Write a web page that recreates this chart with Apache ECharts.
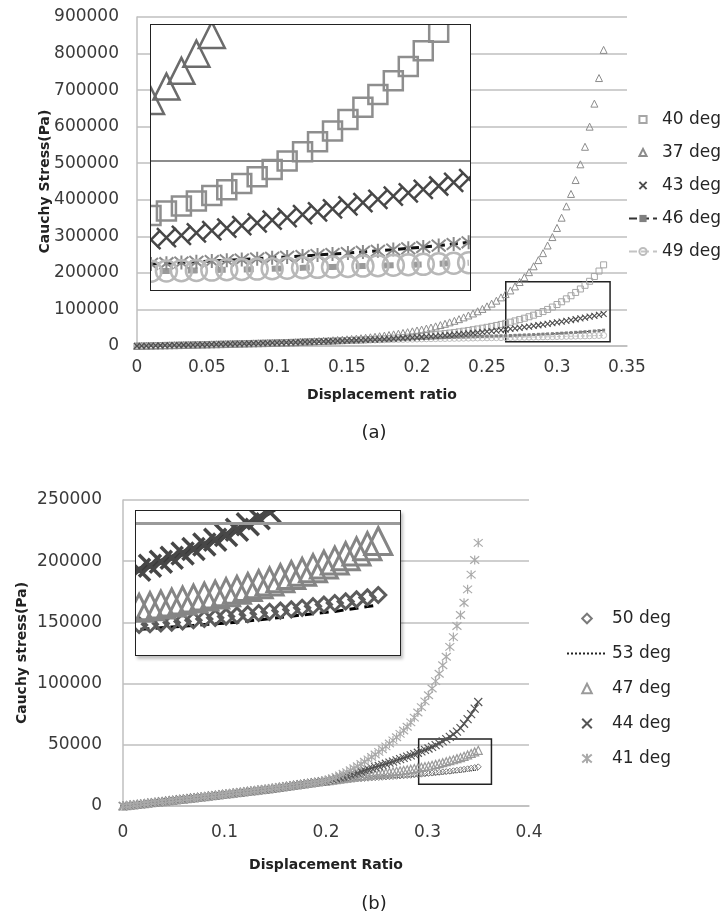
<!DOCTYPE html>
<html>
<head>
<meta charset="utf-8">
<script src="https://cdn.jsdelivr.net/npm/echarts@6/dist/echarts.min.js"></script>
<style>
  html, body { margin: 0; background: #fff; }
  #main { position: absolute; left: 0; top: 0; width: 728px; height: 917px; }
  .inset { position: absolute; background: #fff; border: 1.5px solid #222; box-sizing: border-box; overflow: hidden; }
  .inset > div { width: 100%; height: 100%; }
  #insetA { left: 150px; top: 24px; width: 321px; height: 267px; }
  #insetB { left: 135px; top: 510px; width: 266px; height: 146px; box-shadow: 2px 3px 3px rgba(0,0,0,0.25); }
</style>
</head>
<body>
<div id="main"></div>
<div id="insetA" class="inset"><div id="insetAChart"></div></div>
<div id="insetB" class="inset"><div id="insetBChart"></div></div>
<script>
// ====== (a) displacement ratio samples and stresses (Pa) ======
const xa = [0,0.0033,0.0067,0.01,0.0133,0.0167,0.02,0.0233,0.0267,0.03,
  0.0333,0.0367,0.04,0.0433,0.0467,0.05,0.0533,0.0567,0.06,0.0633,
  0.0667,0.07,0.0733,0.0767,0.08,0.0833,0.0867,0.09,0.0933,0.0967,
  0.1,0.1033,0.1067,0.11,0.1133,0.1167,0.12,0.1233,0.1267,0.13,
  0.1333,0.1367,0.14,0.1433,0.1467,0.15,0.1533,0.1567,0.16,0.1633,
  0.1667,0.17,0.1733,0.1767,0.18,0.1833,0.1867,0.19,0.1933,0.1967,
  0.2,0.2033,0.2067,0.21,0.2133,0.2167,0.22,0.2233,0.2267,0.23,
  0.2333,0.2367,0.24,0.2433,0.2467,0.25,0.2533,0.2567,0.26,0.2633,
  0.2667,0.27,0.2733,0.2767,0.28,0.2833,0.2867,0.29,0.2933,0.2967,
  0.3,0.3033,0.3067,0.31,0.3133,0.3167,0.32,0.3233,0.3267,0.33,
  0.3333];
// shared start where all curves overlap
const aBase = [0,270,540,810,1080,1350,1620,1890,2160,2430,
  2700,2970,3240,3510,3780,4050,4360,4670,4980,5290,
  5600,5910,6220,6530,6840,7150,7460,7770,8080,8390,
  8700,9080,9460,9840,10220];
const a37 = [11400,11900,12400,13000,13600,14300,15000,15800,16600,17400,
  18300,19300,20300,21400,22600,23900,25300,26800,28400,30100,
  31900,33800,35800,37900,40100,42500,45000,47700,50600,53800,
  57200,60800,64700,68900,73400,78300,83500,89000,95000,101500,
  108500,116000,124000,133000,142000,152000,163000,175000,188000,202000,
  218000,235000,254000,275000,298000,323000,351000,382000,416000,454000,
  497000,545000,600000,663000,733000,810000];
const a40 = [10700,11100,11500,11900,12300,12700,13100,13500,14000,14500,
  15000,15500,16000,16600,17200,17800,18500,19200,19900,20700,
  21500,22400,23300,24300,25300,26400,27500,28700,29900,31200,
  32600,34000,35500,37100,38800,40600,42500,44500,46600,48800,
  51100,53600,56200,59000,62000,65200,68600,72200,76000,80000,
  84300,89000,94200,100000,106500,113500,121000,129000,137500,146500,
  156000,166000,177000,190000,205000,222000];
const a43 = [10600,11000,11400,11800,12200,12600,13000,13400,13800,14200,
  14700,15200,15700,16200,16700,17200,17700,18300,18900,19500,
  20100,20800,21500,22200,23000,23800,24600,25400,26300,27200,
  28100,29100,30100,31100,32200,33300,34400,35600,36800,38100,
  39400,40800,42200,43600,45100,46600,48200,49800,51500,53200,
  55000,56800,58700,60600,62600,64600,66700,68800,71000,73200,
  75500,77800,80200,82600,85100,87700];
const a46 = [10500,10900,11300,11700,12100,12500,12900,13300,13700,14100,
  14500,14900,15300,15700,16100,16500,16900,17300,17700,18100,
  18500,18900,19300,19700,20100,20500,20900,21300,21700,22100,
  22500,22900,23300,23700,24100,24500,24900,25300,25700,26100,
  26500,26900,27300,27700,28200,28700,29200,29700,30200,30700,
  31300,31900,32500,33100,33700,34400,35100,35800,36600,37400,
  38200,39100,40000,41000,42100,43300];
const a49 = [10400,10800,11200,11600,12000,12400,12800,13200,13600,14000,
  14400,14800,15100,15400,15700,16000,16300,16600,16900,17200,
  17500,17800,18100,18400,18700,19000,19300,19600,19900,20100,
  20300,20500,20700,20900,21100,21300,21500,21700,21900,22100,
  22300,22500,22700,22900,23100,23300,23500,23700,23900,24100,
  24300,24600,24900,25200,25500,25800,26100,26400,26700,27000,
  27300,27600,27900,28300,28700,29100];

// ====== (b) ======
const xb = [0,0.0035,0.007,0.0105,0.014,0.0175,0.021,0.0245,0.028,0.0315,
  0.035,0.0385,0.042,0.0455,0.049,0.0525,0.056,0.0595,0.063,0.0665,
  0.07,0.0735,0.077,0.0805,0.084,0.0875,0.091,0.0945,0.098,0.1015,
  0.105,0.1085,0.112,0.1155,0.119,0.1225,0.126,0.1295,0.133,0.1365,
  0.14,0.1435,0.147,0.1505,0.154,0.1575,0.161,0.1645,0.168,0.1715,
  0.175,0.1785,0.182,0.1855,0.189,0.1925,0.196,0.1995,0.203,0.2065,
  0.21,0.2135,0.217,0.2205,0.224,0.2275,0.231,0.2345,0.238,0.2415,
  0.245,0.2485,0.252,0.2555,0.259,0.2625,0.266,0.2695,0.273,0.2765,
  0.28,0.2835,0.287,0.2905,0.294,0.2975,0.301,0.3045,0.308,0.3115,
  0.315,0.3185,0.322,0.3255,0.329,0.3325,0.336,0.3395,0.343,0.3465,
  0.35];
const bBase = [0,330,660,990,1320,1650,1980,2310,2640,2970,
  3300,3640,3980,4320,4660,5000,5340,5680,6020,6360,
  6700,7040,7380,7720,8060,8400,8750,9100,9450,9800,
  10150,10500,10850,11200,11550,11900,12250,12600,12950,13300,
  13650,14050,14450,14850,15250,15650,16050,16450,16850,17250,
  17650,18050,18450,18850,19250,19650,20050];
const b41 = [20800,21700,22700,23800,25000,26300,27700,29200,30800,32500,
  34300,36200,38100,40100,42100,44200,46400,48700,51100,53600,
  56200,58900,61700,64800,68300,72200,76400,80800,85500,90500,
  96000,102000,108000,115000,122000,130000,138000,147000,156000,166000,
  177000,189000,201000,215000];
const b44 = [20600,21300,22000,22700,23400,24100,24900,25700,26500,27300,
  28200,29100,30000,30900,31800,32700,33600,34500,35400,36300,
  37300,38300,39300,40300,41300,42400,43500,44600,45800,47000,
  48300,49700,51200,52800,54600,56500,58600,60800,63600,67200,
  71000,75000,79500,85000];
const b47 = [20400,20800,21200,21600,22000,22400,22800,23200,23600,24000,
  24400,24800,25200,25600,26000,26400,26800,27200,27600,28000,
  28400,28800,29200,29600,30100,30600,31100,31600,32100,32700,
  33300,34000,34700,35400,36200,37000,37800,38700,39600,40600,
  41700,42900,44200,45500];
const b50 = [20300,20500,20700,20900,21100,21300,21500,21700,21900,22100,
  22300,22500,22700,22900,23100,23300,23500,23700,23900,24100,
  24300,24500,24700,24900,25100,25400,25700,26000,26300,26600,
  26900,27200,27500,27800,28100,28400,28800,29200,29600,30000,
  30400,30900,31400,32000];
const b53 = [20200,20400,20500,20700,20800,21000,21100,21300,21400,21600,
  21700,21900,22000,22200,22300,22500,22600,22800,22900,23100,
  23200,23400,23600,23800,24000,24200,24400,24600,24800,25000,
  25200,25500,25800,26100,26400,26700,27000,27300,27600,27900,
  28300,28700,29100,29500];

const legendA = ['40 deg', '37 deg', '43 deg', '46 deg', '49 deg'];
const legendB = ['50 deg', '53 deg', '47 deg', '44 deg', '41 deg'];

// zoom boxes (data space) and the ranges shown in the insets
const boxA = [[0.2634, 11800], [0.3379, 176000]];
const boxB = [[0.2913, 17700], [0.363, 54700]];
const insetRangeA = { x: [0.2633, 0.3336], y: [10000, 195000], grid: 100000 };
const insetRangeB = { x: [0.272, 0.357], y: [17000, 53000], grid: 50000 };

const FONT = 'DejaVu Sans';
const X_PATH = 'path://M0,0L10,10M10,0L0,10';
const STAR_PATH = 'path://M0,1L10,11M10,1L0,11M5,0L5,12';

const pts = (xs, base, tail) => xs.map((x, i) => [x, i < base.length ? base[i] : tail[i - base.length]]);

const dataA = {
  '37 deg': pts(xa, aBase, a37), '40 deg': pts(xa, aBase, a40), '43 deg': pts(xa, aBase, a43),
  '46 deg': pts(xa, aBase, a46), '49 deg': pts(xa, aBase, a49)
};
const dataB = {
  '50 deg': pts(xb, bBase, b50), '53 deg': pts(xb, bBase, b53), '47 deg': pts(xb, bBase, b47),
  '44 deg': pts(xb, bBase, b44), '41 deg': pts(xb, bBase, b41)
};

function mk(name, data, axis, s) {
  return {
    name, type: 'line', data, xAxisIndex: axis, yAxisIndex: axis,
    symbol: s.symbol, symbolSize: s.size,
    itemStyle: { color: s.fill || 'rgba(0,0,0,0)', borderColor: s.stroke || 'rgba(0,0,0,0)', borderWidth: s.bw || 0 },
    lineStyle: s.line || { width: 0 },
    emphasis: { disabled: true }, silent: true, animation: false
  };
}

// main styles
const styleA = {
  '37 deg': { symbol: 'triangle', size: 7, stroke: '#8c8c8c', bw: 1 },
  '40 deg': { symbol: 'rect', size: 6, stroke: '#a6a6a6', bw: 1 },
  '43 deg': { symbol: X_PATH, size: 6, stroke: '#4d4d4d', bw: 1.1 },
  '46 deg': { symbol: 'rect', size: 3, fill: '#808080', line: { color: '#333', width: 1, type: 'dashed' } },
  '49 deg': { symbol: 'circle', size: 6, stroke: '#bdbdbd', bw: 1, line: { color: '#c4c4c4', width: 1, type: 'dashed' } }
};
const styleB = {
  '50 deg': { symbol: 'diamond', size: 6, stroke: '#7a7a7a', bw: 1 },
  '53 deg': { symbol: 'none', size: 0, line: { color: '#222', width: 1, type: 'dotted' } },
  '47 deg': { symbol: 'triangle', size: 8, stroke: '#9a9a9a', bw: 1.2 },
  '44 deg': { symbol: X_PATH, size: 8, stroke: '#555', bw: 1.2, line: { color: '#3a3a3a', width: 1.5 } },
  '41 deg': { symbol: STAR_PATH, size: 9, stroke: '#aaaaaa', bw: 1.2 }
};
// inset styles (magnified)
const insetStyleA = {
  '37 deg': { symbol: 'triangle', size: 26, stroke: '#6b6b6b', bw: 2.5 },
  '40 deg': { symbol: 'rect', size: 19, stroke: '#8e8e8e', bw: 2.5 },
  '43 deg': { symbol: X_PATH, size: 19, stroke: '#474747', bw: 2.5 },
  '46 deg': { symbol: STAR_PATH, size: 14, stroke: '#8a8a8a', bw: 2, line: { color: '#111', width: 3, type: [8, 5] } },
  '49 deg': { symbol: 'circle', size: 21, stroke: '#b8b8b8', bw: 2.5, line: { color: '#9a9a9a', width: 6, type: [10, 18] } }
};
const insetStyleB = {
  '50 deg': { symbol: 'diamond', size: 15, stroke: '#5c5c5c', bw: 3 },
  '53 deg': { symbol: 'none', size: 0, line: { color: '#000', width: 3, type: [9, 6] } },
  '47 deg': { symbol: 'triangle', size: 27, stroke: '#858585', bw: 3 },
  '44 deg': { symbol: X_PATH, size: 22, stroke: '#474747', bw: 3.5, line: { color: '#3a3a3a', width: 6 } },
  '41 deg': { symbol: STAR_PATH, size: 22, stroke: '#a8a8a8', bw: 3 }
};

// drawing order (last on top)
const orderA = ['49 deg', '46 deg', '40 deg', '37 deg', '43 deg'];
const orderB = ['50 deg', '53 deg', '47 deg', '44 deg', '41 deg'];

const boxMark = (b) => ({
  silent: true, label: { show: false },
  itemStyle: { color: 'rgba(0,0,0,0)', borderColor: '#222', borderWidth: 1.5 },
  data: [[{ coord: b[0] }, { coord: b[1] }]]
});

const seriesMain = [];
orderA.forEach((n, k) => {
  const s = mk(n, dataA[n], 0, styleA[n]);
  if (k === 0) s.markArea = boxMark(boxA);
  seriesMain.push(s);
});
orderB.forEach((n, k) => {
  const s = mk(n, dataB[n], 1, styleB[n]);
  if (k === 0) s.markArea = boxMark(boxB);
  seriesMain.push(s);
});

const axisBase = {
  type: 'value',
  axisLine: { show: true, lineStyle: { color: '#bfbfbf', width: 1.5 } },
  axisTick: { show: false },
  axisLabel: { color: '#3a3a3a', fontFamily: FONT, fontSize: 17, formatter: (v) => String(v) },
  nameLocation: 'middle',
  nameMoveOverlap: false,
  nameTextStyle: { color: '#222', fontFamily: FONT, fontWeight: 'bold', fontSize: 14 }
};
const xAxisOf = (o) => Object.assign({}, axisBase, { splitLine: { show: false } }, o);
const yAxisOf = (o) => Object.assign({}, axisBase, { splitLine: { show: true, lineStyle: { color: '#bfbfbf', width: 1.5 } } }, o);

const legendText = { fontFamily: FONT, fontSize: 17, color: '#262626' };

const chart = echarts.init(document.getElementById('main'));
chart.setOption({
  animation: false,
  title: [
    { text: '(a)', left: 374, top: 424, padding: 0, textAlign: 'center',
      textStyle: { fontFamily: FONT, fontWeight: 'normal', fontSize: 18, color: '#222' } },
    { text: '(b)', left: 374, top: 895, padding: 0, textAlign: 'center',
      textStyle: { fontFamily: FONT, fontWeight: 'normal', fontSize: 18, color: '#222' } }
  ],
  legend: [
    { orient: 'vertical', left: 628, top: 111, padding: 0, itemWidth: 28, itemHeight: 9, itemGap: 16,
      selectedMode: false, data: legendA, textStyle: legendText },
    { orient: 'vertical', left: 566, top: 610, padding: 0, itemWidth: 40, itemHeight: 12, itemGap: 18,
      selectedMode: false, textStyle: legendText,
      data: legendB.map((n) => n === '44 deg' ? { name: n, lineStyle: { width: 0 } } : n) }
  ],
  grid: [
    { left: 137, top: 17, width: 490, height: 329, outerBoundsMode: 'none' },
    { left: 123, top: 500, width: 406, height: 306, outerBoundsMode: 'none' }
  ],
  xAxis: [
    xAxisOf({ gridIndex: 0, min: 0, max: 0.35, interval: 0.05, name: 'Displacement ratio', nameGap: 42,
      axisLabel: Object.assign({}, axisBase.axisLabel, { margin: 13 }) }),
    xAxisOf({ gridIndex: 1, min: 0, max: 0.4, interval: 0.1, name: 'Displacement Ratio', nameGap: 52,
      axisLabel: Object.assign({}, axisBase.axisLabel, { margin: 18 }) })
  ],
  yAxis: [
    yAxisOf({ gridIndex: 0, min: 0, max: 900000, interval: 100000, name: 'Cauchy Stress(Pa)', nameGap: 85,
      axisLabel: Object.assign({}, axisBase.axisLabel, { margin: 18 }) }),
    yAxisOf({ gridIndex: 1, min: 0, max: 250000, interval: 50000, name: 'Cauchy stress(Pa)', nameGap: 94,
      axisLabel: Object.assign({}, axisBase.axisLabel, { margin: 21 }) })
  ],
  series: seriesMain
});

function insetChart(id, range, order, data, styles, gridColor, gridWidth) {
  const c = echarts.init(document.getElementById(id));
  const series = order.map((n) => mk(n, data[n], 0, styles[n]));
  series[0].markLine = {
    silent: true, symbol: ['none', 'none'], label: { show: false },
    lineStyle: { color: gridColor, width: gridWidth, type: 'solid' },
    data: [{ yAxis: range.grid }]
  };
  c.setOption({
    animation: false,
    grid: { left: 0, right: 0, top: 0, bottom: 0, outerBoundsMode: 'none' },
    xAxis: { type: 'value', min: range.x[0], max: range.x[1], show: false },
    yAxis: { type: 'value', min: range.y[0], max: range.y[1], show: false },
    series
  });
}
insetChart('insetAChart', insetRangeA, ['37 deg', '40 deg', '43 deg', '46 deg', '49 deg'], dataA, insetStyleA, '#8c8c8c', 2);
insetChart('insetBChart', insetRangeB, orderB, dataB, insetStyleB, '#9a9a9a', 3);
</script>
</body>
</html>
